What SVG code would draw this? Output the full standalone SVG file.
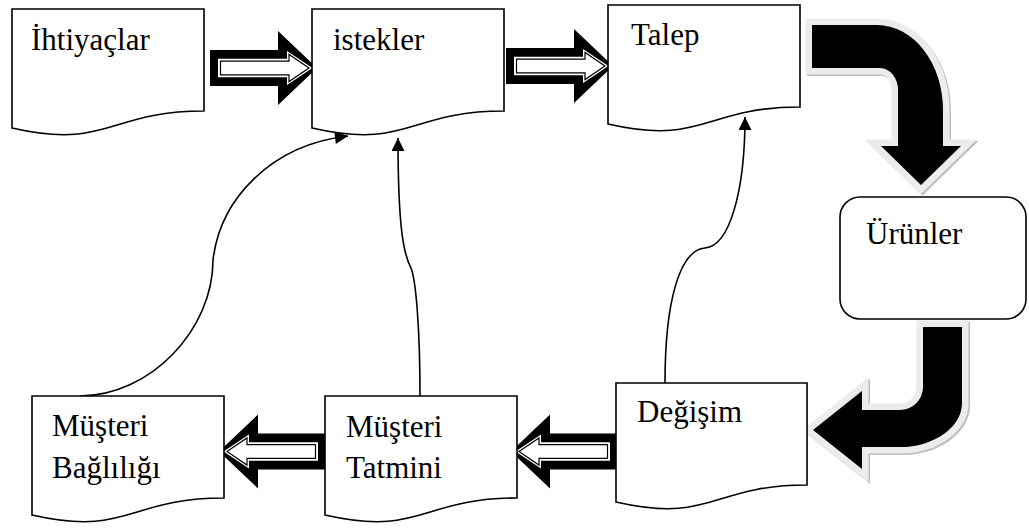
<svg xmlns="http://www.w3.org/2000/svg" xmlns:xlink="http://www.w3.org/1999/xlink" width="1029" height="529" viewBox="0 0 1029 529">
  <style>
    .box { fill: #ffffff; stroke: #000000; stroke-width: 1.6; stroke-linejoin: miter; }
    .label { font-family: "Liberation Serif", "Times New Roman", serif; font-size: 31px; fill: #000000; }
    .link { fill: none; stroke: #000000; stroke-width: 1.6; }
    .blk { fill: #000000; }
    .gap { fill: #ffffff; }
    .core { fill: #ffffff; stroke: #000000; stroke-width: 1.2; }
    .bend-shadow { fill: #bdbdbd; stroke: #bdbdbd; stroke-width: 13; stroke-linejoin: miter; }
    .bend-glow { fill: #ececec; stroke: #ececec; stroke-width: 13; stroke-linejoin: miter; }
    .bend { fill: #000000; }
  </style>
  <defs>
    <!-- document flowchart shape, 192 wide, wavy bottom edge -->
    <path id="doc" d="M0,0 H192 V102 C96,102 96,141 0,119 Z"/>
    <!-- double-outlined block arrow pointing right, origin at tail centre -->
    <g id="blockArrow">
      <path class="blk" d="M0,-18 H68 V-37 L107,0 L68,37 V18 H0 Z"/>
      <path class="gap" d="M8,-9.3 H77 V-17 L102.5,0 L77,17 V9.3 H8 Z"/>
      <path class="core" d="M10.5,-6.8 H79 V-13.5 L99,0 L79,13.5 V6.8 H10.5 Z"/>
    </g>
    <marker id="head" viewBox="0 0 10 10" refX="10" refY="5" markerUnits="userSpaceOnUse" markerWidth="14" markerHeight="13" orient="auto">
      <path d="M0,0 L10,5 L0,10 Z" fill="#000000"/>
    </marker>
  </defs>

  <!-- thin feedback connectors -->
  <g id="connectors">
    <path class="link" marker-end="url(#head)" d="M80,396 C150,396 213,330 213,260 C220,200 270,145 348,136"/>
    <path class="link" marker-end="url(#head)" d="M420,396 C420,330 416,280 411,268 C404,255 398,230 398,138"/>
    <path class="link" marker-end="url(#head)" d="M665,383 C665,300 680,250 705,248 C730,246 745,190 745,117"/>

    <!-- straight block arrows -->
    <use xlink:href="#blockArrow" transform="translate(210,68)"/>
    <use xlink:href="#blockArrow" transform="translate(506,66)"/>
    <use xlink:href="#blockArrow" transform="translate(618,451.5) scale(-1,1)"/>
    <use xlink:href="#blockArrow" transform="translate(326,451.5) scale(-1,1)"/>

    <!-- bent arrow: Talep down to Ürünler -->
    <g id="bend-top">
      <path class="bend-shadow" transform="translate(1.5,1.5)" d="M812,25 H877 A66,85 0 0 1 943,110 V146 H961 L921,185 L881,146 H898 V90 A18,22 0 0 0 880,68 H812 Z"/>
      <path class="bend-glow" d="M812,25 H877 A66,85 0 0 1 943,110 V146 H961 L921,185 L881,146 H898 V90 A18,22 0 0 0 880,68 H812 Z"/>
      <path class="bend" d="M812,25 H877 A66,85 0 0 1 943,110 V146 H961 L921,185 L881,146 H898 V90 A18,22 0 0 0 880,68 H812 Z"/>
    </g>
    <!-- bent arrow: Ürünler round to Değişim -->
    <g id="bend-bottom">
      <path class="bend-shadow" transform="translate(1.5,1.5)" d="M923,327 H962 V403 A62,44 0 0 1 900,447 H862 V469 L813,430 L862,391 V410 H900 A23,23 0 0 0 923,387 Z"/>
      <path class="bend-glow" d="M923,327 H962 V403 A62,44 0 0 1 900,447 H862 V469 L813,430 L862,391 V410 H900 A23,23 0 0 0 923,387 Z"/>
      <path class="bend" d="M923,327 H962 V403 A62,44 0 0 1 900,447 H862 V469 L813,430 L862,391 V410 H900 A23,23 0 0 0 923,387 Z"/>
    </g>
  </g>

  <g id="ihtiyaclar">
    <use xlink:href="#doc" class="box" transform="translate(12,9)"/>
    <text class="label" x="31" y="50">İhtiyaçlar</text>
  </g>
  <g id="istekler">
    <use xlink:href="#doc" class="box" transform="translate(312,9)"/>
    <text class="label" x="333" y="50">istekler</text>
  </g>
  <g id="talep">
    <use xlink:href="#doc" class="box" transform="translate(608,5)"/>
    <text class="label" x="631" y="45">Talep</text>
  </g>
  <g id="urunler">
    <rect class="box" x="840" y="197" width="186" height="122" rx="20" ry="20"/>
    <text class="label" x="866" y="244">Ürünler</text>
  </g>
  <g id="degisim">
    <use xlink:href="#doc" class="box" transform="translate(616,383) scale(0.995,1)"/>
    <text class="label" x="637" y="422">Değişim</text>
  </g>
  <g id="musteri-tatmini">
    <use xlink:href="#doc" class="box" transform="translate(325,396)"/>
    <text class="label" x="346" y="437">Müşteri</text>
    <text class="label" x="346" y="478">Tatmini</text>
  </g>
  <g id="musteri-bagliligi">
    <use xlink:href="#doc" class="box" transform="translate(32,396)"/>
    <text class="label" x="52" y="436">Müşteri</text>
    <text class="label" x="52" y="478">Bağlılığı</text>
  </g>
</svg>
